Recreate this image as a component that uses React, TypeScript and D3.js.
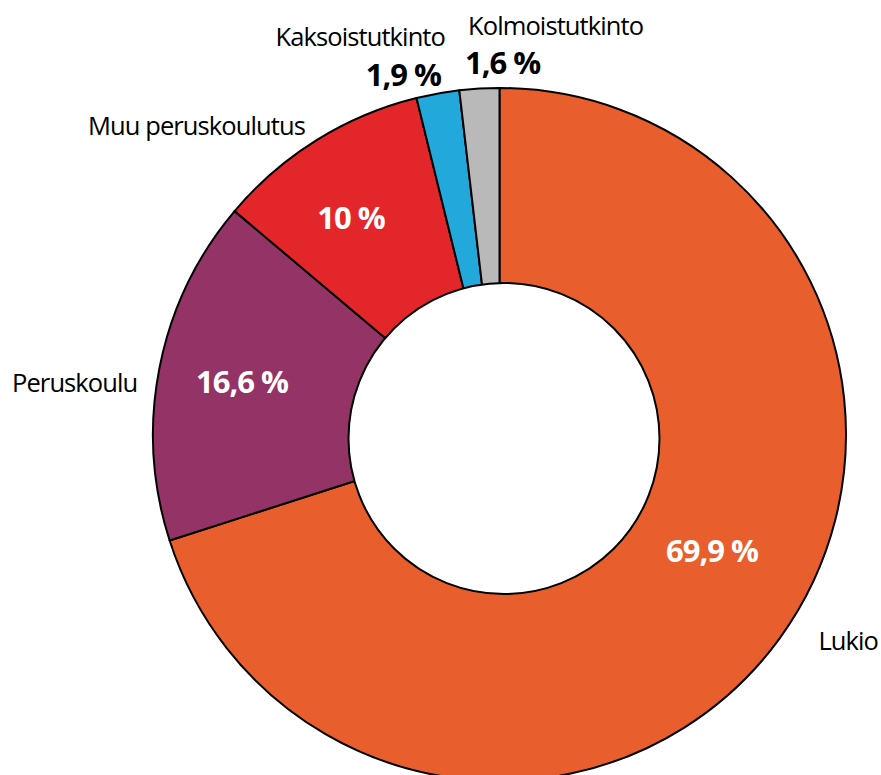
import React from "react";
import * as d3 from "d3";

const categories = ["Lukio", "Peruskoulu", "Muu peruskoulutus", "Kaksoistutkinto", "Kolmoistutkinto"];
// slice shares as drawn in the picture
const values = [70.05, 16.1, 10.0, 2.0, 1.85];
const valueLabels = ["69,9 %", "16,6 %", "10 %", "1,9 %", "1,6 %"];
const colors = ["#E95E2D", "#943366", "#E3262A", "#23A8DB", "#B9B9B9"];

const W = 881;
const H = 775;
const CX = 499.5;
const CY = 434.5;
const R_OUT = 346.5;
const HOLE_DX = 4.5;
const HOLE_DY = 4;
const R_IN = 155.5;

const nameLayout = [
  { x: 878, y: 650, anchor: "end" },
  { x: 12, y: 392, anchor: "start" },
  { x: 305, y: 135, anchor: "end" },
  { x: 445, y: 46, anchor: "end" },
  { x: 468, y: 35, anchor: "start" },
];
const valueLayout = [
  { inside: true, x: 712, y: 562 },
  { inside: true, x: 242, y: 393 },
  { inside: true, x: 351, y: 229 },
  { inside: false, x: 441, y: 86, anchor: "end" },
  { inside: false, x: 465, y: 74, anchor: "start" },
];

const FONT = "'Open Sans', 'Noto Sans', sans-serif";

export default function App() {
  const pie = d3.pie<number>().sort(null).value((d) => d)(values);
  const arc = d3.arc<d3.PieArcDatum<number>>().innerRadius(0).outerRadius(R_OUT);

  return (
    <svg
      width={W}
      height={H}
      style={{ position: "absolute", left: 0, top: 0, background: "#fff" }}
    >
      <g transform={`translate(${CX},${CY})`}>
        {pie.map((p, i) => (
          <path key={i} d={arc(p) || ""} fill={colors[i]} stroke="#000" strokeWidth={2} strokeLinejoin="round" />
        ))}
        <circle cx={HOLE_DX} cy={HOLE_DY} r={R_IN} fill="#fff" stroke="#000" strokeWidth={2} />
      </g>
      {valueLayout.map((v, i) =>
        v.inside ? (
          <text
            key={"v" + i}
            x={v.x}
            y={v.y}
            textAnchor="middle"
            fill="#fff"
            fontFamily={FONT}
            fontWeight={700}
            fontSize={31}
            letterSpacing={-1}
          >
            {valueLabels[i]}
          </text>
        ) : (
          <text
            key={"o" + i}
            x={v.x}
            y={v.y}
            textAnchor={v.anchor as any}
            fill="#000"
            fontFamily={FONT}
            fontWeight={700}
            fontSize={31}
            letterSpacing={-1}
          >
            {valueLabels[i]}
          </text>
        )
      )}
      {categories.map((c, i) => (
        <text
          key={"n" + i}
          x={nameLayout[i].x}
          y={nameLayout[i].y}
          textAnchor={nameLayout[i].anchor as any}
          fill="#000"
          fontFamily={FONT}
          fontSize={25.5}
          letterSpacing={-0.9}
        >
          {c}
        </text>
      ))}
    </svg>
  );
}
